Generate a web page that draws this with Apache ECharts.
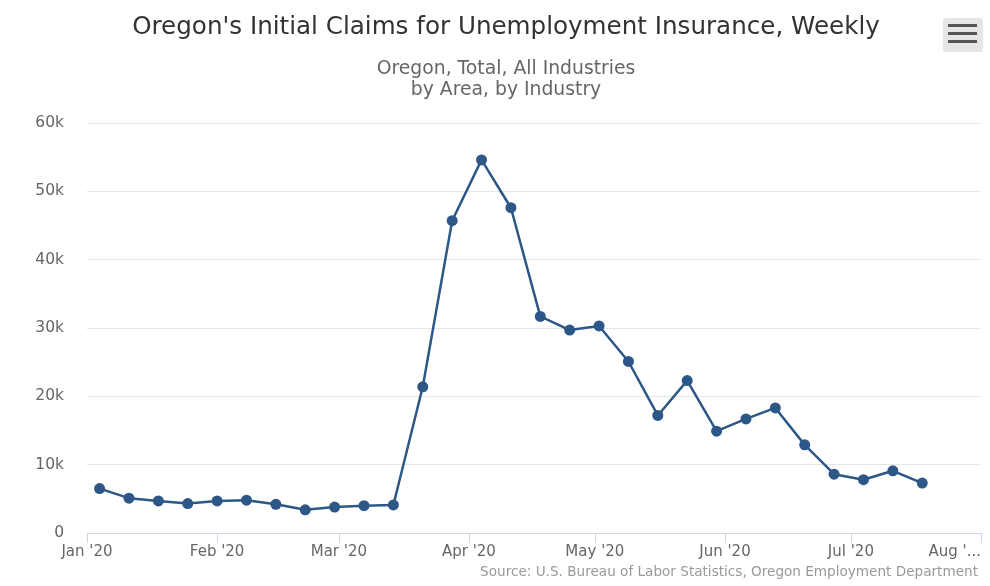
<!DOCTYPE html>
<html>
<head>
<meta charset="utf-8">
<script src="https://cdn.jsdelivr.net/npm/echarts@6/dist/echarts.min.js"></script>
<style>
html,body{margin:0;padding:0;background:#fff;}
#chart{width:990px;height:586px;}
</style>
</head>
<body>
<div id="chart"></div>
<script>
// Week-ending dates (Saturdays)
const weekDates = [
  "2020-01-04","2020-01-11","2020-01-18","2020-01-25",
  "2020-02-01","2020-02-08","2020-02-15","2020-02-22","2020-02-29",
  "2020-03-07","2020-03-14","2020-03-21","2020-03-28",
  "2020-04-04","2020-04-11","2020-04-18","2020-04-25",
  "2020-05-02","2020-05-09","2020-05-16","2020-05-23","2020-05-30",
  "2020-06-06","2020-06-13","2020-06-20","2020-06-27",
  "2020-07-04","2020-07-11","2020-07-18"
];
// Initial claims, weekly
const claims = [
  6500, 5100, 4700, 4300,
  4700, 4800, 4200, 3400, 3800,
  4000, 4100, 21400, 45700,
  54600, 47600, 31700, 29700,
  30300, 25100, 17200, 22300, 14900,
  16700, 18300, 12900, 8600,
  7800, 9100, 7300
];
// Month tick positions and labels
const monthStarts = ["2020-01-01","2020-02-01","2020-03-01","2020-04-01","2020-05-01","2020-06-01","2020-07-01","2020-08-01"];
const monthLabels = ["Jan '20","Feb '20","Mar '20","Apr '20","May '20","Jun '20","Jul '20","Aug '..."];
const yTicks = [0, 10000, 20000, 30000, 40000, 50000, 60000];
const yTickLabels = ["0","10k","20k","30k","40k","50k","60k"];

const titleText = "Oregon's Initial Claims for Unemployment Insurance, Weekly";
const subtitleText = "Oregon, Total, All Industries\nby Area, by Industry";
const creditText = "Source: U.S. Bureau of Labor Statistics, Oregon Employment Department";

const ts = s => { const p = s.split('-').map(Number); return Date.UTC(p[0], p[1]-1, p[2]); };
const monthTs = monthStarts.map(ts);
const FONT = "'DejaVu Sans', Verdana, sans-serif";

const chart = echarts.init(document.getElementById('chart'), null, {renderer: 'canvas'});
chart.setOption({
  backgroundColor: '#ffffff',
  animation: false,
  title: [
    {text: titleText, left: 501, top: 10, textAlign: 'center',
     textStyle: {fontFamily: FONT, fontSize: 24.6, fontWeight: 'normal', color: '#333333'}},
    {text: subtitleText, left: 501, top: 54, textAlign: 'center',
     textStyle: {fontFamily: FONT, fontSize: 18.8, fontWeight: 'normal', color: '#666666', lineHeight: 21}}
  ],
  grid: {left: 87, right: 9, top: 123, bottom: 53, containLabel: false},
  xAxis: {
    type: 'value',
    min: monthTs[0],
    max: monthTs[monthTs.length - 1],
    axisLine: {show: true, lineStyle: {color: '#ccd6eb', width: 1}},
    axisTick: {show: true, customValues: monthTs, length: 10, lineStyle: {color: '#ccd6eb'}},
    splitLine: {show: false},
    axisLabel: {
      customValues: monthTs,
      margin: 12,
      fontFamily: FONT, fontSize: 15, color: '#666666',
      alignMaxLabel: 'right',
      formatter: v => { const i = monthTs.indexOf(v); return i >= 0 ? monthLabels[i] : ''; }
    }
  },
  yAxis: {
    type: 'value',
    min: 0, max: 60000, interval: 10000,
    axisLine: {show: false},
    axisTick: {show: false},
    splitLine: {show: true, lineStyle: {color: '#e6e6e6', width: 1}},
    axisLabel: {
      margin: 23,
      fontFamily: FONT, fontSize: 15.5, color: '#666666',
      formatter: v => { const i = yTicks.indexOf(v); return i >= 0 ? yTickLabels[i] : ''; }
    }
  },
  series: [{
    type: 'line',
    data: weekDates.map((d, i) => [ts(d), claims[i]]),
    symbol: 'circle',
    symbolSize: 11,
    lineStyle: {color: '#2c5786', width: 2.5},
    itemStyle: {color: '#2c5786'},
    z: 3
  }],
  graphic: [
    {type: 'text', right: 12, top: 565,
     style: {text: creditText, fontFamily: FONT, fontSize: 13.6, fill: '#999999', textAlign: 'right'}},
    {type: 'group', left: 943, top: 18, children: [
      {type: 'rect', shape: {x: 0, y: 0, width: 40, height: 34, r: 3}, style: {fill: '#e6e6e6'}},
      {type: 'rect', shape: {x: 5, y: 6, width: 29, height: 3}, style: {fill: '#555555'}},
      {type: 'rect', shape: {x: 5, y: 14, width: 29, height: 3}, style: {fill: '#555555'}},
      {type: 'rect', shape: {x: 5, y: 22, width: 29, height: 3}, style: {fill: '#555555'}}
    ]}
  ]
});
</script>
</body>
</html>
